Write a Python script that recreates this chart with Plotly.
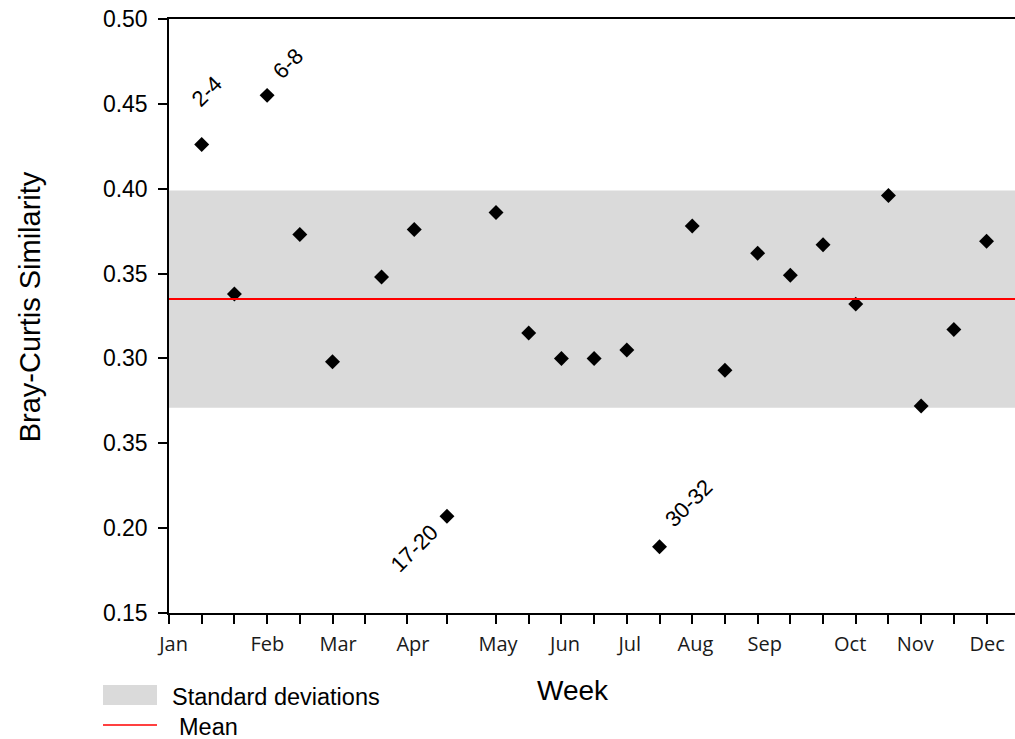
import plotly.graph_objects as go

# Sample positions along the year (evenly spaced slots, with gaps around Apr)
sample_pos = [1, 2, 3, 4, 5, 6.5, 7.5, 8.5, 10, 11, 12, 13, 14, 15, 16, 17,
              18, 19, 20, 21, 22, 23, 24, 25]
similarity = [0.426, 0.338, 0.455, 0.373, 0.298, 0.348, 0.376, 0.207, 0.386,
              0.315, 0.300, 0.300, 0.305, 0.189, 0.378, 0.293, 0.362, 0.349,
              0.367, 0.332, 0.396, 0.272, 0.317, 0.369]

# Week ranges for the outlying samples (index into the lists above)
outlier_idx = [0, 2, 7, 13]
outlier_text = ["2-4", "6-8", "17-20", "30-32"]
outlier_shift = [(5, 53), (21, 32), (-33, -32), (29, 43)]

mean_val = 0.335
sd_val = 0.064

# x-axis tick marks and month labels
x_ticks = [0, 1, 2, 3, 4, 5, 6, 7.29, 8.5, 10, 11, 12, 13, 14, 15, 16, 17,
           18, 19, 20, 21, 22, 23, 24, 25]
months = ["Jan", "Feb", "Mar", "Apr", "May", "Jun", "Jul", "Aug", "Sep",
          "Oct", "Nov", "Dec"]
month_pos = [0.14, 3.01, 5.17, 7.46, 10.06, 12.11, 14.09, 16.10, 18.22,
             20.83, 22.82, 25.02]

y_ticks = [0.15, 0.20, 0.25, 0.30, 0.35, 0.40, 0.45, 0.50]
y_ticktext = ["0.15", "0.20", "0.35", "0.30", "0.35", "0.40", "0.45", "0.50"]

ARIAL = "Liberation Sans, Arial, sans-serif"
MONTH_FONT = "Open Sans, Noto Sans, sans-serif"

fig = go.Figure()

fig.add_trace(go.Scatter(
    x=sample_pos, y=similarity, mode="markers",
    marker=dict(symbol="diamond", size=11.5, color="black",
                line=dict(width=0)),
    showlegend=False, hoverinfo="x+y",
))
# invisible trace carrying the month-label axis
fig.add_trace(go.Scatter(x=[month_pos[0]], y=[mean_val], xaxis="x2",
                         mode="markers", marker=dict(opacity=0),
                         showlegend=False, hoverinfo="skip"))

# standard-deviation band and mean line
fig.add_shape(type="rect", xref="paper", yref="y", x0=0, x1=1,
              y0=mean_val - sd_val, y1=mean_val + sd_val,
              fillcolor="#dadada", line=dict(width=0), layer="below")
fig.add_shape(type="line", xref="paper", yref="y", x0=0, x1=1,
              y0=mean_val, y1=mean_val, line=dict(color="red", width=2))

for i, txt, (dx, dy) in zip(outlier_idx, outlier_text, outlier_shift):
    fig.add_annotation(x=sample_pos[i], y=similarity[i], text=txt,
                       showarrow=False, textangle=-45, xshift=dx, yshift=dy,
                       font=dict(family=ARIAL, size=22, color="black"))

# legend drawn below the axes
fig.add_shape(type="rect", xref="paper", yref="paper",
              x0=-0.078, x1=-0.0142, y0=-0.1549, y1=-0.1212,
              fillcolor="#dadada", line=dict(width=0))
fig.add_shape(type="line", xref="paper", yref="paper",
              x0=-0.078, x1=-0.0142, y0=-0.1886, y1=-0.1886,
              line=dict(color="red", width=1.5))
fig.add_annotation(xref="paper", yref="paper", x=0.001, y=-0.1420,
                   xanchor="left", yanchor="middle", showarrow=False,
                   text="Standard deviations",
                   font=dict(family=ARIAL, size=23.5, color="black"))
fig.add_annotation(xref="paper", yref="paper", x=0.009, y=-0.1920,
                   xanchor="left", yanchor="middle", showarrow=False,
                   text="Mean",
                   font=dict(family=ARIAL, size=23.5, color="black"))

# axis titles
fig.add_annotation(xref="paper", yref="paper", x=-0.164, y=0.515,
                   xanchor="center", yanchor="middle", showarrow=False,
                   textangle=-90, text="Bray-Curtis Similarity",
                   font=dict(family=ARIAL, size=29, color="black"))
fig.add_annotation(xref="paper", yref="paper", x=0.4775, y=-0.1313,
                   xanchor="center", yanchor="middle", showarrow=False,
                   text="Week",
                   font=dict(family=ARIAL, size=28, color="black"))

fig.update_layout(
    width=1015, height=739,
    margin=dict(l=169, r=0, t=19, b=126),
    plot_bgcolor="white", paper_bgcolor="white",
    showlegend=False,
    xaxis=dict(range=[0, 25.87], tickmode="array", tickvals=x_ticks,
               showticklabels=False, ticks="outside", ticklen=9,
               tickwidth=1.5, tickcolor="black", showline=True,
               linecolor="black", linewidth=1.5, mirror=True,
               showgrid=False, zeroline=False),
    xaxis2=dict(range=[0, 25.87], overlaying="x", side="bottom",
                anchor="y", tickmode="array", tickvals=month_pos,
                ticktext=months, ticks="", showline=False, showgrid=False,
                zeroline=False, ticklabelstandoff=17,
                tickfont=dict(family=MONTH_FONT, size=20, color="#1a1a1a")),
    yaxis=dict(range=[0.15, 0.50], tickmode="array", tickvals=y_ticks,
               ticktext=y_ticktext, ticks="outside", ticklen=9,
               tickwidth=1.5, tickcolor="black", showline=True,
               linecolor="black", linewidth=1.5, showgrid=False,
               zeroline=False, ticklabelstandoff=6,
               tickfont=dict(family=ARIAL, size=23, color="black")),
)

fig.write_html("out.html")
